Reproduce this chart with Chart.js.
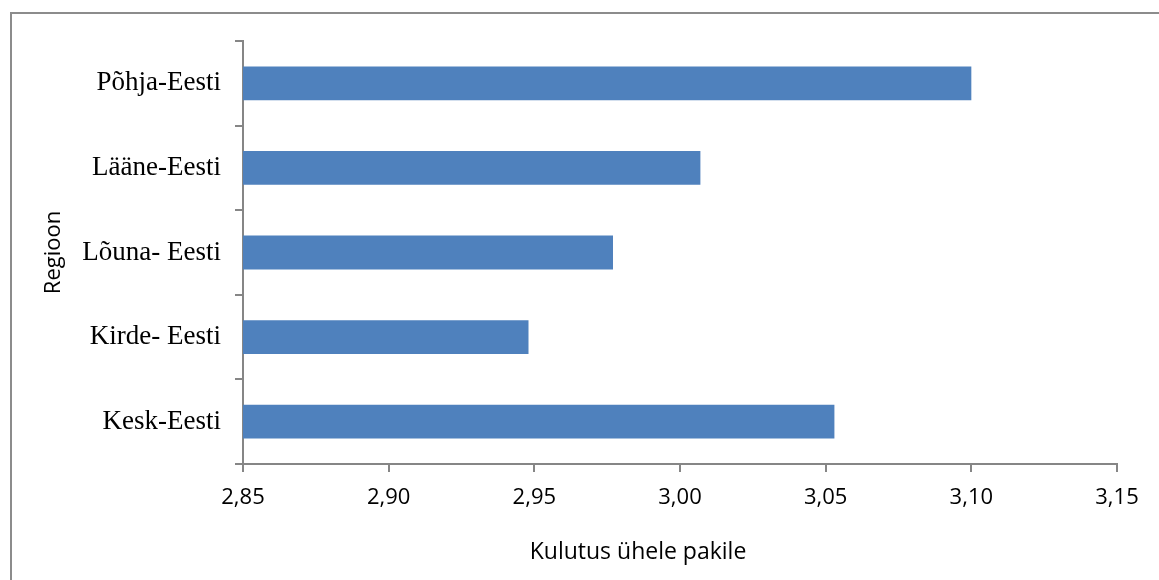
<!DOCTYPE html>
<html>
<head>
<meta charset="utf-8">
<script src="https://cdn.jsdelivr.net/npm/chart.js@4/dist/chart.umd.min.js"></script>
<style>
  html, body { margin: 0; padding: 0; background: #fff; overflow: hidden; }
  #wrap { position: relative; width: 1159px; height: 580px; }
  #frame {
    position: absolute; left: 10px; top: 12px; width: 1300px; height: 700px;
    border-top: 2px solid #8c8c8c; border-left: 2px solid #8c8c8c;
  }
  canvas { position: absolute; left: 0; top: 0; }
</style>
</head>
<body>
<div id="wrap">
  <div id="frame"></div>
  <canvas id="regionChart" width="1159" height="580"></canvas>
</div>
<script>
// Kulutus ühele pakile regiooniti
const regions = ['Põhja-Eesti', 'Lääne-Eesti', 'Lõuna- Eesti', 'Kirde- Eesti', 'Kesk-Eesti'];
const consumption = [3.100, 3.007, 2.977, 2.948, 3.053];
const xTicks = [2.85, 2.90, 2.95, 3.00, 3.05, 3.10, 3.15];

const axisGrey = '#868686';
const sansFont = 'Open Sans';

// x-axis title sits a bit left of the plot centre
const xTitlePlugin = {
    id: 'xTitle',
    afterDraw(chart) {
        const ctx = chart.ctx;
        ctx.save();
        ctx.font = `23px "${sansFont}"`;
        ctx.fillStyle = '#000';
        ctx.textAlign = 'center';
        ctx.textBaseline = 'middle';
        ctx.fillText('Kulutus ühele pakile', 638, 552);
        ctx.restore();
    }
};

new Chart(document.getElementById('regionChart'), {
    type: 'bar',
    data: {
        labels: regions,
        datasets: [{
            data: consumption,
            backgroundColor: '#4f81bd',
            borderWidth: 0,
            barPercentage: 0.4,
            categoryPercentage: 1
        }]
    },
    options: {
        indexAxis: 'y',
        responsive: false,
        animation: false,
        layout: { padding: { left: 37, top: 41, right: 42, bottom: 0 } },
        plugins: {
            legend: { display: false },
            tooltip: { enabled: false }
        },
        scales: {
            x: {
                min: xTicks[0],
                max: xTicks[xTicks.length - 1],
                afterBuildTicks: (scale) => { scale.ticks = xTicks.map(v => ({ value: v })); },
                afterFit: (scale) => { scale.height = 580 - 464; },
                border: { color: axisGrey, width: 2 },
                grid: { drawOnChartArea: false, color: axisGrey, lineWidth: 2, tickLength: 8 },
                ticks: {
                    color: '#000',
                    padding: 13,
                    font: { family: sansFont, size: 22 },
                    callback: (v) => Number(v).toFixed(2).replace('.', ',')
                }
            },
            y: {
                afterFit: (scale) => { scale.width = 243 - 37; },
                border: { color: axisGrey, width: 2 },
                grid: { drawOnChartArea: false, color: axisGrey, lineWidth: 2, tickLength: 8 },
                ticks: {
                    color: '#000',
                    padding: 14,
                    font: { family: 'Liberation Serif', size: 27 }
                },
                title: {
                    display: true,
                    text: 'Regioon',
                    color: '#000',
                    font: { family: sansFont, size: 22 }
                }
            }
        }
    },
    plugins: [xTitlePlugin]
});
</script>
</body>
</html>
